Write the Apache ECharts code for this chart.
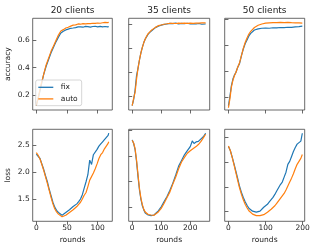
<!DOCTYPE html>
<html><head><meta charset="utf-8">
<script src="https://cdn.jsdelivr.net/npm/echarts@6/dist/echarts.min.js"></script>
<style>html,body{margin:0;padding:0;background:#fff}#c{width:313px;height:247px}</style>
</head><body><div id="c"></div>
<script>
// ---------- data ----------
const titles = ['20 clients', '35 clients', '50 clients'];
const seriesNames = ['fix', 'auto'];
const rowNames = ['accuracy', 'loss'];
const xLabel = 'rounds';

const xTicks20 = [0, 50, 100];
const xTicks35 = [0, 100, 200];
const xTicks50 = [0, 100, 200];
const yTicksAcc20 = [0.2, 0.4, 0.6];
const yTicksAcc35 = [0.2, 0.4, 0.6, 0.8];
const yTicksAcc50 = [0.2, 0.4, 0.6, 0.8];
const yTicksLoss20 = [1.5, 2.0, 2.5];
const yTicksLoss35 = [1.5, 2.0, 2.5, 3.0];
const yTicksLoss50 = [1.5, 2.0, 2.5, 3.0];

// accuracy, 20 clients
const accRounds20 = [0,4,8,12,16,20,24,28,32,36,40,44,48,52,56,60,64,68,72,76,80,84,88,92,96,100,104,108,112,116,118];
const accFix20  = [0.12,0.19,0.27,0.35,0.41,0.46,0.51,0.55,0.59,0.625,0.655,0.668,0.678,0.684,0.69,0.692,0.695,0.70,0.70,0.698,0.704,0.702,0.699,0.703,0.705,0.701,0.704,0.700,0.703,0.700,0.702];
const accAuto20 = [0.12,0.20,0.28,0.35,0.42,0.47,0.52,0.56,0.60,0.64,0.67,0.68,0.692,0.698,0.706,0.713,0.715,0.722,0.72,0.724,0.722,0.725,0.724,0.727,0.726,0.729,0.727,0.731,0.733,0.732,0.734];

// accuracy, 35 clients
const accRounds35 = [0,5,10,15,20,25,30,35,40,45,50,55,60,65,70,80,90,100,110,120,130,140,150,160,170,180,190,200,210,220,230,240,253];
const accFix35  = [0.12,0.17,0.25,0.37,0.43,0.50,0.56,0.605,0.645,0.675,0.695,0.715,0.73,0.74,0.755,0.77,0.782,0.79,0.797,0.80,0.805,0.803,0.807,0.80,0.805,0.802,0.806,0.80,0.803,0.80,0.804,0.798,0.80];
const accAuto35 = [0.12,0.18,0.23,0.34,0.43,0.50,0.56,0.605,0.645,0.675,0.70,0.72,0.733,0.745,0.758,0.772,0.786,0.792,0.798,0.802,0.805,0.806,0.804,0.807,0.805,0.808,0.806,0.807,0.806,0.808,0.807,0.809,0.81];

// accuracy, 50 clients
const accRounds50 = [0,4,8,12,16,20,25,30,35,40,45,50,55,60,65,70,80,90,100,110,120,130,140,150,160,170,180,190,199];
const accFix50  = [0.135,0.21,0.29,0.34,0.37,0.39,0.43,0.46,0.52,0.57,0.61,0.64,0.67,0.69,0.705,0.716,0.724,0.729,0.731,0.729,0.733,0.732,0.735,0.734,0.737,0.736,0.739,0.741,0.745];
const accAuto50 = [0.12,0.19,0.28,0.33,0.365,0.39,0.43,0.465,0.52,0.575,0.62,0.655,0.685,0.705,0.72,0.735,0.752,0.762,0.768,0.771,0.772,0.773,0.774,0.772,0.774,0.772,0.771,0.770,0.768];

// loss, 20 clients
const lossRounds20 = [0,3,6,9,12,15,18,21,24,27,30,33,36,39,42,45,48,51,54,57,60,63,66,69,72,75,78,81,84,87,90,93,96,99,102,105,108,111,114,117,118];
const lossFix20  = [2.33,2.30,2.25,2.15,2.05,1.93,1.82,1.68,1.56,1.44,1.35,1.29,1.25,1.22,1.20,1.19,1.25,1.24,1.30,1.31,1.36,1.35,1.41,1.45,1.50,1.58,1.70,1.82,1.95,2.22,2.14,2.32,2.33,2.42,2.48,2.52,2.56,2.60,2.62,2.68,2.72];
const lossAuto20 = [2.36,2.31,2.24,2.14,2.03,1.91,1.79,1.66,1.53,1.41,1.32,1.26,1.22,1.19,1.17,1.17,1.20,1.23,1.25,1.27,1.30,1.33,1.36,1.40,1.44,1.50,1.57,1.62,1.73,1.85,1.86,1.98,2.06,2.15,2.25,2.32,2.36,2.43,2.48,2.53,2.56];

// loss, 35 clients
const lossRounds35 = [0,5,10,15,20,25,30,35,40,45,50,55,60,65,70,75,80,90,100,110,120,130,140,150,160,170,180,190,200,207,213,220,228,237,245,253];
const lossFix35  = [2.81,2.74,2.62,2.39,2.10,1.84,1.66,1.53,1.45,1.39,1.37,1.35,1.35,1.34,1.32,1.35,1.37,1.43,1.51,1.61,1.71,1.83,1.97,2.13,2.30,2.41,2.52,2.60,2.68,2.79,2.74,2.77,2.78,2.83,2.87,2.94];
const lossAuto35 = [2.80,2.75,2.64,2.42,2.14,1.87,1.68,1.55,1.46,1.41,1.38,1.36,1.355,1.35,1.34,1.345,1.36,1.41,1.48,1.58,1.69,1.80,1.95,2.09,2.25,2.38,2.47,2.55,2.60,2.63,2.65,2.68,2.72,2.78,2.85,2.92];

// loss, 50 clients
const lossRounds50 = [0,5,10,15,20,25,30,35,40,45,50,55,60,65,70,75,80,85,90,95,100,105,110,115,120,125,130,135,140,145,150,155,160,165,170,175,180,185,190,195,199];
const lossFix50  = [2.82,2.74,2.61,2.47,2.32,2.17,2.01,1.89,1.79,1.70,1.63,1.57,1.53,1.51,1.50,1.49,1.51,1.51,1.55,1.59,1.62,1.65,1.70,1.74,1.79,1.85,1.92,1.96,2.05,2.10,2.20,2.30,2.46,2.52,2.62,2.72,2.80,2.87,2.84,2.93,3.09];
const lossAuto50 = [2.83,2.74,2.60,2.45,2.29,2.13,1.98,1.85,1.74,1.65,1.58,1.52,1.48,1.45,1.43,1.42,1.41,1.42,1.43,1.44,1.47,1.49,1.52,1.55,1.58,1.62,1.67,1.71,1.77,1.82,1.87,1.94,2.02,2.10,2.18,2.27,2.37,2.46,2.52,2.58,2.66];

// ---------- layout / style ----------
const FONT = 'DejaVu Sans';
const TXT = '#222';
const SPINE = '#444';
const BLUE = '#1f77b4', ORANGE = '#ff7f0e';

const cols = [{left: 32.7, width: 79.6}, {left: 128.7, width: 81}, {left: 224.7, width: 80}];
const rows = [{top: 18.3, height: 91.7}, {top: 129.3, height: 92}];
const xRanges = [[-5.9, 123.8], [-12, 267], [-10.1, 205.4]];
const yRanges = [
  [[0.0878, 0.7636], [0.0833, 0.8475], [0.1027, 0.8054]],
  [[1.087, 2.791], [1.228, 3.016], [1.305, 3.170]]
];
const xTicks = [xTicks20, xTicks35, xTicks50];
const yTicks = [[yTicksAcc20, yTicksAcc35, yTicksAcc50], [yTicksLoss20, yTicksLoss35, yTicksLoss50]];
const panels = [
  [[accRounds20, accFix20, accAuto20], [accRounds35, accFix35, accAuto35], [accRounds50, accFix50, accAuto50]],
  [[lossRounds20, lossFix20, lossAuto20], [lossRounds35, lossFix35, lossAuto35], [lossRounds50, lossFix50, lossAuto50]]
];
const pairs = (xs, ys) => xs.map((x, i) => [x, ys[i]]);

const grid = [], xAxis = [], yAxis = [], series = [];
let idx = 0;
for (let r = 0; r < 2; r++) {
  for (let c = 0; c < 3; c++) {
    grid.push({
      left: cols[c].left, width: cols[c].width, top: rows[r].top, height: rows[r].height,
      show: true, borderColor: SPINE, borderWidth: 0.8, backgroundColor: 'transparent',
      containLabel: false, outerBoundsMode: 'none'
    });
    xAxis.push({
      type: 'value', gridIndex: idx, min: xRanges[c][0], max: xRanges[c][1],
      axisLine: {show: false}, splitLine: {show: false},
      axisTick: {show: true, inside: false, length: 3.5, lineStyle: {color: SPINE, width: 0.8}, customValues: xTicks[c]},
      axisLabel: {show: r === 1, customValues: xTicks[c], fontSize: 7.5, color: TXT, fontFamily: FONT, margin: 2.5,
        formatter: v => String(v)},
      name: r === 1 ? xLabel : '', nameLocation: 'middle', nameGap: 14.5,
      nameTextStyle: {fontSize: 7.5, color: TXT, fontFamily: FONT}
    });
    yAxis.push({
      type: 'value', gridIndex: idx, min: yRanges[r][c][0], max: yRanges[r][c][1],
      axisLine: {show: false}, splitLine: {show: false},
      axisTick: {show: true, inside: false, length: 3.5, lineStyle: {color: SPINE, width: 0.8}, customValues: yTicks[r][c]},
      axisLabel: {show: c === 0, customValues: yTicks[r][c], fontSize: 7.5, color: TXT, fontFamily: FONT, margin: 3,
        formatter: v => v.toFixed(1)},
      name: c === 0 ? rowNames[r] : '', nameLocation: 'middle', nameGap: 21, nameRotate: 90,
      nameTextStyle: {fontSize: 7.5, color: TXT, fontFamily: FONT}
    });
    const [xs, fix, auto] = panels[r][c];
    series.push({
      type: 'line', name: seriesNames[0], xAxisIndex: idx, yAxisIndex: idx,
      data: pairs(xs, fix), showSymbol: false, symbol: 'none', z: 2,
      lineStyle: {width: 1.2, color: BLUE}, itemStyle: {color: BLUE}
    });
    series.push({
      type: 'line', name: seriesNames[1], xAxisIndex: idx, yAxisIndex: idx,
      data: pairs(xs, auto), showSymbol: false, symbol: 'none', z: 3,
      lineStyle: {width: 1.2, color: ORANGE}, itemStyle: {color: ORANGE}
    });
    idx++;
  }
}

const title = titles.map((t, c) => ({
  text: t, left: cols[c].left + cols[c].width / 2, top: 6.5, padding: 0, textAlign: 'center',
  textStyle: {fontSize: 9, fontWeight: 'normal', color: TXT, fontFamily: FONT}
}));

const chart = echarts.init(document.getElementById('c'), null, {renderer: 'canvas'});
chart.setOption({
  animation: false,
  backgroundColor: '#fff',
  title,
  legend: {
    data: seriesNames, orient: 'vertical', left: 35.7, top: 80,
    icon: 'rect', itemWidth: 15, itemHeight: 1.3,
    padding: [3, 4, 2.5, 2.6], itemGap: 3,
    borderColor: '#ccc', borderWidth: 0.8, borderRadius: 2, backgroundColor: 'rgba(255,255,255,0.8)',
    textStyle: {fontSize: 7.5, color: TXT, fontFamily: FONT, padding: [0, 0, 0, 2.5], lineHeight: 8.6},
    selectedMode: false
  },
  grid, xAxis, yAxis, series
});
</script>
</body></html>
